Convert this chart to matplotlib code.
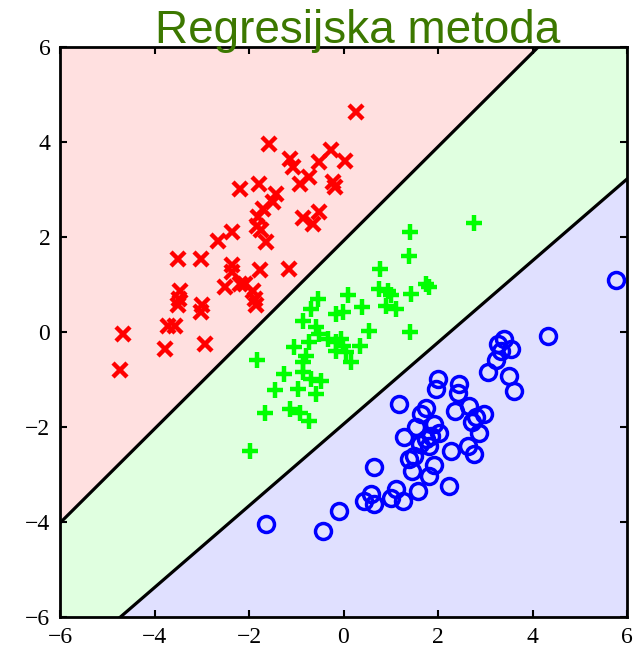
import numpy as np
import matplotlib
matplotlib.use('Agg')
import matplotlib.pyplot as plt

# class 1 (red crosses)
red_x = [0.27, -1.58, -1.14, -1.07, -0.26, 0.04, -0.51, -0.72, -0.93, -0.23, -0.19, -2.2, -1.79, -1.42, -1.49,
         -1.7, -1.81, -1.84, -1.74, -1.63, -0.86, -0.65, -0.51, -2.66, -2.37, -3.5, -3.02, -2.37, -2.37, -1.77,
         -1.16, -2.51, -2.2, -2.09, -1.92, -1.88, -1.86, -3.47, -3.48, -3.5, -2.99, -3.01, -3.71, -3.57, -2.94,
         -3.78, -4.66, -4.73]
red_y = [4.64, 3.95, 3.65, 3.47, 3.83, 3.61, 3.57, 3.26, 3.12, 3.16, 3.05, 3.02, 3.11, 2.91, 2.73,
         2.59, 2.42, 2.24, 2.14, 1.89, 2.39, 2.28, 2.53, 1.92, 2.1, 1.54, 1.53, 1.4, 1.26, 1.3,
         1.32, 0.94, 1.01, 1.01, 0.87, 0.7, 0.56, 0.87, 0.7, 0.57, 0.57, 0.42, 0.13, 0.13, -0.25,
         -0.36, -0.04, -0.81]

# class 2 (green plus)
green_x = [1.41, 1.39, 0.77, 0.76, 0.94, 1.01, 0.9, 1.11, 1.43, 1.75, 1.82, 1.41, 0.09, 0.39, -0.01,
           -0.15, -0.54, -0.68, -0.86, -0.58, -0.51, -0.33, 0.55, -0.72, -0.15, -0.05, -0.01, -0.15, 0.06,
           0.34, 0.16, -1.04, -0.79, -0.86, -1.83, -1.25, -0.86, -0.68, -0.47, -1.44, -0.97, -0.58, -1.67,
           -1.13, -0.93, -0.72, -1.98, 2.77]
green_y = [2.1, 1.61, 1.33, 0.91, 0.87, 0.77, 0.55, 0.49, 0.8, 1.01, 0.94, -0.01, 0.77, 0.52, 0.42,
           0.38, 0.7, 0.49, 0.24, 0.1, -0.04, -0.15, 0.03, -0.22, -0.22, -0.15, -0.29, -0.39, -0.43,
           -0.29, -0.64, -0.32, -0.5, -0.64, -0.6, -0.89, -0.85, -0.99, -1.03, -1.22, -1.2, -1.31, -1.7,
           -1.63, -1.7, -1.88, -2.5, 2.3]

# class 3 (blue circles)
blue_x = [5.76, 4.32, 3.26, 3.4, 3.54, 3.33, 3.23, 3.05, 3.51, 3.61, 1.99, 1.96, 2.45, 2.42, 1.18,
          1.75, 1.64, 2.35, 2.66, 2.98, 2.8, 2.73, 1.92, 2.03, 2.87, 1.29, 1.75, 1.85, 1.61, 1.82,
          2.28, 2.63, 2.77, 1.5, 1.39, 1.92, 1.46, 1.82, 0.65, 2.24, 1.57, 1.11, 1.25, 1.01, 0.58,
          0.44, 0.65, -0.1, -0.44, -1.65, 1.54]
blue_y = [1.09, -0.08, -0.25, -0.15, -0.36, -0.39, -0.6, -0.85, -0.92, -1.24, -0.99, -1.2, -1.1, -1.28, -1.52,
          -1.59, -1.73, -1.66, -1.56, -1.73, -1.8, -1.9, -1.94, -2.12, -2.12, -2.22, -2.26, -2.19, -2.36, -2.4,
          -2.5, -2.4, -2.57, -2.61, -2.68, -2.79, -2.93, -3.04, -2.85, -3.25, -3.35, -3.31, -3.56, -3.49, -3.42,
          -3.56, -3.63, -3.77, -4.19, -4.05, -2.0]

# decision boundaries y = a*x + b
upper_line = (0.99, 1.92)
lower_line = (0.86, -1.94)

fig = plt.figure(figsize=(6.36, 6.58), dpi=100)
ax = fig.add_axes([60 / 636, 1 - 617 / 658, 567 / 636, 570 / 658])

xs = np.array([-6, 6])
y_up = upper_line[0] * xs + upper_line[1]
y_lo = lower_line[0] * xs + lower_line[1]

ax.fill_between(xs, y_up, 6, color='#ffe0e0', zorder=0)
ax.fill_between(xs, y_lo, y_up, color='#e0ffe0', zorder=0)
ax.fill_between(xs, -6, y_lo, color='#e0e0ff', zorder=0)
ax.plot(xs, y_up, color='k', linewidth=2.3, zorder=1)
ax.plot(xs, y_lo, color='k', linewidth=2.3, zorder=1)

ax.plot(red_x, red_y, 'x', color='#ff0000', markersize=9.5, markeredgewidth=3.2, zorder=2)
ax.plot(green_x, green_y, '+', color='#00ff00', markersize=11.5, markeredgewidth=3.2, zorder=2)
ax.plot(blue_x, blue_y, 'o', color='#0000ff', markerfacecolor='none', markersize=11.5,
        markeredgewidth=2.5, zorder=2)

ax.set_xlim(-6, 6)
ax.set_ylim(-6, 6)
ax.set_xticks([-6, -4, -2, 0, 2, 4, 6])
ax.set_yticks([-6, -4, -2, 0, 2, 4, 6])
ax.set_xticklabels(['\u22126', '\u22124', '\u22122', '0', '2', '4', '6'])
ax.set_yticklabels(['\u22126', '\u22124', '\u22122', '0', '2', '4', '6'])
ax.tick_params(direction='in', length=5, width=1.5, top=True, right=True, pad=7,
               labelsize=17)
for lab in ax.get_xticklabels() + ax.get_yticklabels():
    lab.set_family('Liberation Serif')
for sp in ax.spines.values():
    sp.set_linewidth(2)

fig.text(155 / 636, 1 - 43 / 658, 'Regresijska metoda', family='Liberation Sans', fontsize=33,
         color='#3c7800', ha='left', va='baseline')

plt.savefig('out.png', dpi=100)
